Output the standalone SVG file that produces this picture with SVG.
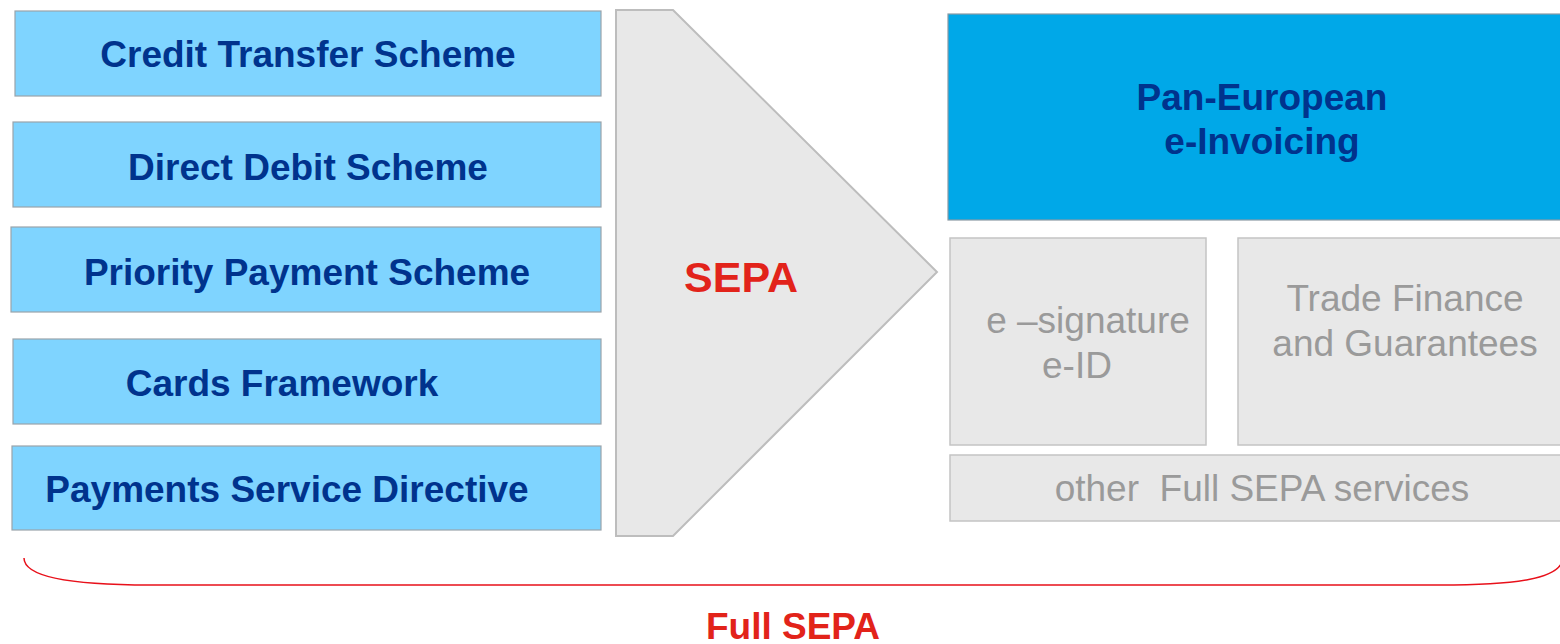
<svg xmlns="http://www.w3.org/2000/svg" width="1560" height="644" viewBox="0 0 1560 644">
  <style>
    .scheme { fill: #7fd4ff; stroke: #9aa4ab; stroke-width: 1.2; }
    .scheme-t { font-family: "Liberation Sans", Arial, sans-serif; font-weight: bold; font-size: 37px; fill: #00338d; text-anchor: middle; }
    .grey { fill: #e8e8e8; stroke: #c4c4c4; stroke-width: 1.5; }
    .grey-t { font-family: "Liberation Sans", Arial, sans-serif; font-size: 37px; fill: #9a9a9a; text-anchor: middle; }
    .red-t { font-family: "Liberation Sans", Arial, sans-serif; font-weight: bold; fill: #e2231a; text-anchor: middle; }
  </style>
  <rect width="1560" height="644" fill="#ffffff"/>

  <!-- Payment schemes feeding SEPA -->
  <g id="credit-transfer">
    <rect class="scheme" x="15" y="11" width="586" height="85"/>
    <text class="scheme-t" x="308" y="67">Credit Transfer Scheme</text>
  </g>
  <g id="direct-debit">
    <rect class="scheme" x="13" y="122" width="588" height="85"/>
    <text class="scheme-t" x="308" y="180">Direct Debit Scheme</text>
  </g>
  <g id="priority-payment">
    <rect class="scheme" x="11" y="227" width="590" height="85"/>
    <text class="scheme-t" x="307" y="285">Priority Payment Scheme</text>
  </g>
  <g id="cards-framework">
    <rect class="scheme" x="13" y="339" width="588" height="85"/>
    <text class="scheme-t" x="282" y="396">Cards Framework</text>
  </g>
  <g id="psd">
    <rect class="scheme" x="12" y="446" width="589" height="84"/>
    <text class="scheme-t" x="287" y="502">Payments Service Directive</text>
  </g>

  <!-- SEPA chevron -->
  <g id="sepa">
    <polygon points="616,10 673,10 937,272 673,536 616,536" fill="#e8e8e8" stroke="#bdbdbd" stroke-width="2"/>
    <text class="red-t" x="741" y="292" font-size="43">SEPA</text>
  </g>

  <!-- Full SEPA services -->
  <g id="e-invoicing">
    <rect x="948" y="14" width="614" height="206" fill="#00a8e8" stroke="#8a9aa4" stroke-width="1.2"/>
    <text class="scheme-t" x="1262" y="110">Pan-European</text>
    <text class="scheme-t" x="1262" y="154">e-Invoicing</text>
  </g>
  <g id="e-signature">
    <rect class="grey" x="950" y="238" width="256" height="207"/>
    <text class="grey-t" x="1088" y="333">e –signature</text>
    <text class="grey-t" x="1077" y="378">e-ID</text>
  </g>
  <g id="trade-finance">
    <rect class="grey" x="1238" y="238" width="324" height="207"/>
    <text class="grey-t" x="1405" y="311">Trade Finance</text>
    <text class="grey-t" x="1405" y="356">and Guarantees</text>
  </g>
  <g id="other-services">
    <rect class="grey" x="950" y="455" width="612" height="66"/>
    <text class="grey-t" x="1262" y="501" xml:space="preserve">other  Full SEPA services</text>
  </g>

  <!-- Brace spanning everything -->
  <g id="connectors">
    <path d="M24,558 C24,575 60,585 150,585 L1440,585 C1520,585 1556,578 1562,562" fill="none" stroke="#e8101a" stroke-width="1.5"/>
  </g>
  <g id="full-sepa">
    <text class="red-t" x="793" y="639" font-size="37">Full SEPA</text>
  </g>
</svg>
